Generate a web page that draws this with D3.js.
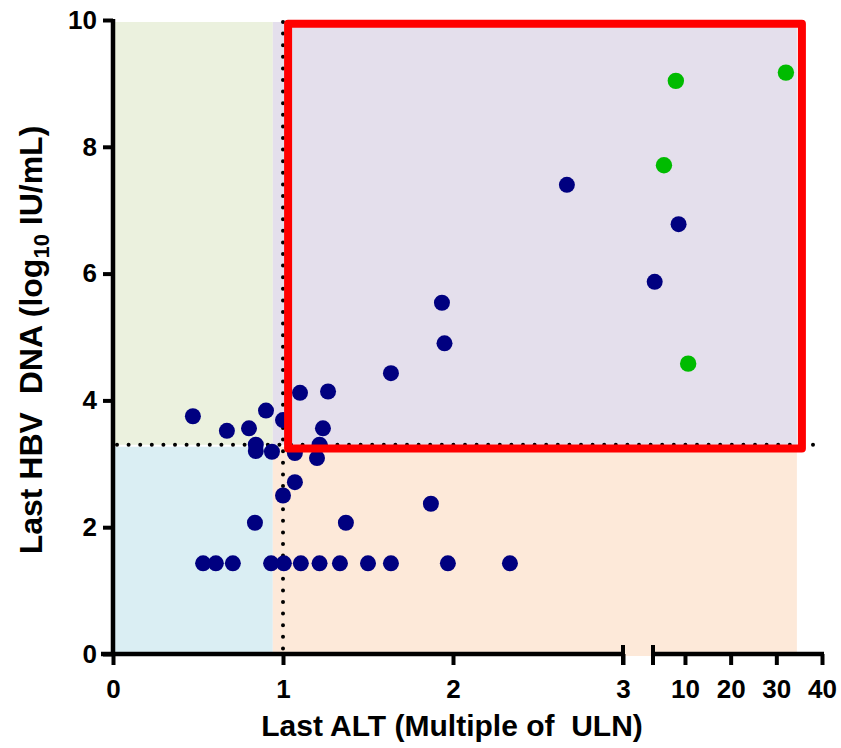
<!DOCTYPE html>
<html><head><meta charset="utf-8">
<script src="https://cdn.jsdelivr.net/npm/d3@7"></script>
<style>body{margin:0;background:#fff}text{font-family:"Liberation Sans",Arial,sans-serif;font-weight:bold;white-space:pre}</style>
</head><body>
<svg id="c" width="841" height="748"></svg>
<script>
// ---- data ----
const altBlue = [0.47,0.67,0.80,0.90,1.00,1.10,1.265,1.235,0.84,0.84,0.935,1.07,1.215,1.20,1.07,1.00,0.835,1.37,1.87,1.635,1.95,1.935,2.67,
                 0.53,0.605,0.705,0.93,1.005,1.105,1.215,1.335,1.50,1.635,1.97,2.335, 3.37, 8.6];
const dnaBlue = [3.75,3.52,3.56,3.84,3.69,4.12,4.14,3.56,3.30,3.20,3.19,3.17,3.30,3.09,2.71,2.50,2.07,2.07,2.37,4.43,4.90,5.54,7.40,
                 1.43,1.43,1.43,1.43,1.43,1.43,1.43,1.43,1.43,1.43,1.43,1.43, 5.87, 6.78];
const altGreen = [8.0, 5.4, 10.7, 32.1];
const dnaGreen = [9.04, 7.71, 4.58, 9.17];
const xTicksLow = [0,1,2,3];
const xTicksHigh = [10,20,30,40];
const yTicks = [0,2,4,6,8,10];
const altCut = 1;        // ULN reference line
const dnaCut = 3.3;      // DNA reference line
const shadeSplitAlt = 0.94;
const shadeEndAlt = 34.5;
const boxAlt = [1.03, 35.6];
const boxDna = [3.24, 9.94];

// ---- scales ----
const svg = d3.select("#c");
const xLow = d3.scaleLinear().domain([0,3]).range([113,623]);
const xHigh = d3.scaleLinear().domain([3,40]).range([653,822]);
const xs = v => v <= 3 ? xLow(v) : xHigh(v);
const y = d3.scaleLinear().domain([0,10]).range([654,20]);

// ---- shading ----
const shade = [
  {a0:0, a1:shadeSplitAlt, d0:dnaCut, d1:10, c:"#EBF1DE"},
  {a0:0, a1:shadeSplitAlt, d0:0, d1:dnaCut, c:"#DAEEF3"},
  {a0:shadeSplitAlt, a1:shadeEndAlt, d0:dnaCut, d1:10, c:"#E4DFEC"},
  {a0:shadeSplitAlt, a1:shadeEndAlt, d0:0, d1:dnaCut, c:"#FDE9D9"}
];
svg.selectAll("rect.sh").data(shade).join("rect").attr("class","sh")
  .attr("x",d=>xs(d.a0)).attr("width",d=>xs(d.a1)-xs(d.a0))
  .attr("y",d=>y(d.d1)+2).attr("height",d=>y(d.d0)-y(d.d1)-(d.d1===10?2:0))
  .attr("fill",d=>d.c);

// ---- dotted reference lines ----
svg.append("line").attr("x1",xs(altCut)).attr("x2",xs(altCut)).attr("y1",y(10)+2).attr("y2",y(0))
  .attr("stroke","#000").attr("stroke-width",4).attr("stroke-linecap","round").attr("stroke-dasharray","0 11.6");
svg.append("line").attr("x1",xs(0)+4).attr("x2",xs(38.7)).attr("y1",y(dnaCut)).attr("y2",y(dnaCut))
  .attr("stroke","#000").attr("stroke-width",4).attr("stroke-linecap","round").attr("stroke-dasharray","0 11.6");

// ---- points ----
const blue = altBlue.map((a,i)=>({a, d:dnaBlue[i]}));
const green = altGreen.map((a,i)=>({a, d:dnaGreen[i]}));
svg.selectAll("circle.b").data(blue).join("circle").attr("class","b")
  .attr("cx",d=>xs(d.a)).attr("cy",d=>y(d.d)).attr("r",8).attr("fill","#000080");
svg.selectAll("circle.g").data(green).join("circle").attr("class","g")
  .attr("cx",d=>xs(d.a)).attr("cy",d=>y(d.d)).attr("r",8.2).attr("fill","#00BB00");

// ---- axes ----
const fmt = d3.format("d");
const gy = svg.append("g").attr("transform","translate(113,0)")
  .call(d3.axisLeft(y).tickValues(yTicks).tickFormat(fmt).tickSize(10).tickSizeOuter(0).tickPadding(6));
const gx1 = svg.append("g").attr("transform","translate(0,654)")
  .call(d3.axisBottom(xLow).tickValues(xTicksLow).tickFormat(fmt).tickSize(11).tickSizeOuter(0).tickPadding(15));
const gx2 = svg.append("g").attr("transform","translate(0,654)")
  .call(d3.axisBottom(xHigh).tickValues(xTicksHigh).tickFormat(fmt).tickSize(11).tickSizeOuter(0).tickPadding(15));
[gy,gx1,gx2].forEach(g=>{
  g.selectAll("path.domain").attr("stroke","#000").attr("stroke-width",4.5);
  g.selectAll(".tick line").attr("stroke","#000").attr("stroke-width",4);
  g.selectAll(".tick text").attr("fill","#000").style("font-size","26px").style("font-family","Liberation Sans, Arial, sans-serif").style("font-weight","bold");
});
gy.select("path.domain").attr("d","M0,"+(y(10)-1)+"V"+(y(0)+2));
gx1.select("path.domain").attr("d","M"+(xLow(0)-12)+",0H"+xLow(3));
gx2.select("path.domain").attr("d","M"+xHigh(3)+",0H"+(xHigh(40)+2));
// break caps
[xLow(3), xHigh(3)].forEach(px=>{
  svg.append("line").attr("x1",px).attr("x2",px).attr("y1",645).attr("y2",665)
    .attr("stroke","#000").attr("stroke-width",4);
});

// ---- red annotation box ----
svg.append("rect").attr("x",xs(boxAlt[0])).attr("y",y(boxDna[1]))
  .attr("width",xs(boxAlt[1])-xs(boxAlt[0])).attr("height",y(boxDna[0])-y(boxDna[1]))
  .attr("fill","none").attr("stroke","#FF0000").attr("stroke-width",8).attr("stroke-linejoin","round");

// ---- titles ----
const yt = svg.append("text").attr("transform","translate(42,340) rotate(-90)")
  .attr("text-anchor","middle").style("font-size","32px").attr("fill","#000");
yt.append("tspan").text("Last HBV  DNA (log");
yt.append("tspan").text("10").style("font-size","22px").attr("dy",7);
yt.append("tspan").text(" IU/mL)").attr("dy",-7);
svg.append("text").attr("x",452).attr("y",736).attr("text-anchor","middle")
  .style("font-size","30px").attr("fill","#000").text("Last ALT (Multiple of  ULN)");
</script>
</body></html>
